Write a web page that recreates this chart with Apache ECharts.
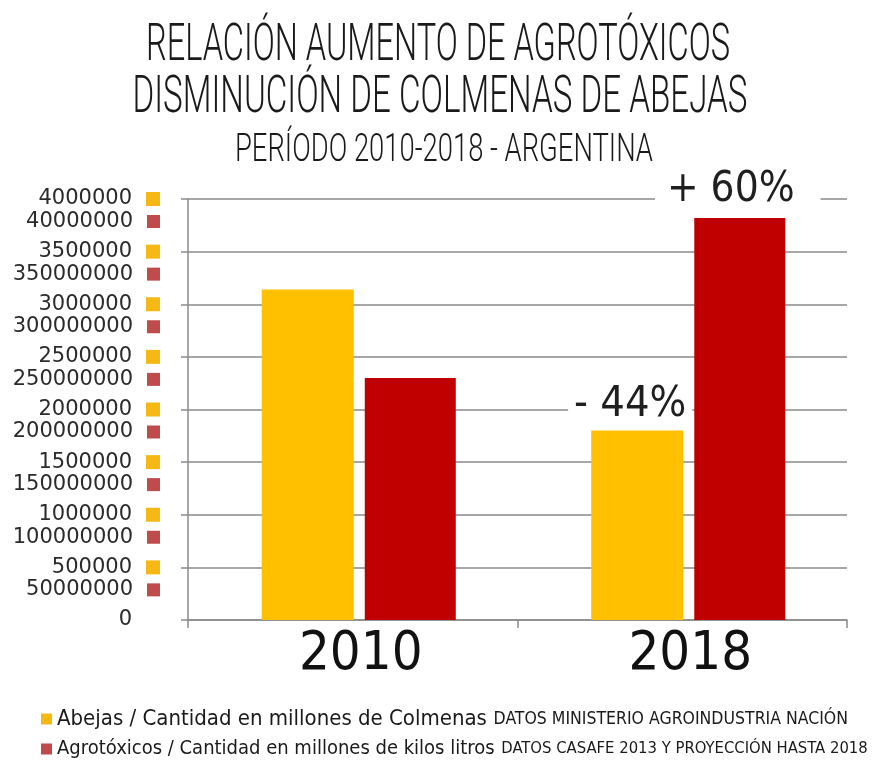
<!DOCTYPE html>
<html>
<head>
<meta charset="utf-8">
<script src="https://cdn.jsdelivr.net/npm/echarts@6/dist/echarts.min.js"></script>
<style>
html,body{margin:0;padding:0;background:#ffffff;}
#chart{width:881px;height:767px;}
</style>
</head>
<body>
<div id="chart"></div>
<script>
// ---------- DATA ----------
const titleLines = [
  'RELACIÓN AUMENTO DE AGROTÓXICOS',
  'DISMINUCIÓN DE COLMENAS DE ABEJAS',
  'PERÍODO 2010-2018 - ARGENTINA'
];
const categories = ['2010', '2018'];
const seriesNames = [
  'Abejas / Cantidad en millones de Colmenas',
  'Agrotóxicos / Cantidad en millones de kilos litros'
];
const seriesSources = [
  'DATOS MINISTERIO AGROINDUSTRIA NACIÓN',
  'DATOS CASAFE 2013 Y PROYECCIÓN HASTA 2018'
];
const beesValues = [3140000, 1800000];
const agroValues = [230000000, 382000000];
const beesChange = ['', '- 44%'];
const agroChange = ['', '+ 60%'];
const beesTickLabels = ['0', '500000', '1000000', '1500000', '2000000', '2500000', '3000000', '3500000', '4000000'];
const agroTickLabels = ['', '50000000', '100000000', '150000000', '200000000', '250000000', '300000000', '350000000', '40000000'];

// ---------- STYLE ----------
const NARROW = "'DejaVu Sans Condensed','Noto Sans',sans-serif";
const TITLE_FONT = "Roboto,'DejaVu Sans Condensed',sans-serif";
const BAR_YELLOW = '#FFC000';
const BAR_RED = '#C00000';
const SQ_YELLOW = '#F5B814';
const SQ_RED = '#BF4B4B';
const AXIS_GREY = '#8a8a8a';

function fitScale(text, size, weight, family, width) {
  const ctx = document.createElement('canvas').getContext('2d');
  ctx.font = weight + ' ' + size + 'px ' + family;
  return width / ctx.measureText(text).width;
}

const titleLayout = [
  {cx: 438, cy: 47, w: 584, size: 51},
  {cx: 440, cy: 99, w: 615, size: 51},
  {cx: 444, cy: 151, w: 418, size: 38}
];
const titleGraphics = titleLines.map((t, i) => {
  const L = titleLayout[i];
  const s = fitScale(t, L.size, 300, TITLE_FONT, L.w);
  return {
    type: 'text', x: L.cx, y: L.cy, scaleX: s,
    style: {
      text: t, fontSize: L.size, fontWeight: 300, fontFamily: TITLE_FONT, fill: '#1a1a1a',
      align: 'center', verticalAlign: 'middle', textAlign: 'center', textVerticalAlign: 'middle'
    }
  };
});

const chart = echarts.init(document.getElementById('chart'), null, {renderer: 'canvas'});

const labelRich = {
  t: {fontFamily: "'DejaVu Sans',Verdana,sans-serif", fontSize: 21, color: '#2b2b2b', lineHeight: 21},
  g: {width: 14},
  ys: {width: 14, height: 14, backgroundColor: SQ_YELLOW},
  rs: {width: 13, height: 13, backgroundColor: SQ_RED},
  ns: {width: 14, height: 14, backgroundColor: 'transparent'}
};

function changeLabel(text, size, dist, off, pad) {
  return {
    show: true, position: 'top', distance: dist, offset: off,
    formatter: text, fontFamily: NARROW, fontSize: size, color: '#1f1f1f',
    backgroundColor: '#ffffff', padding: pad
  };
}

const option = {
  backgroundColor: '#ffffff',
  animation: false,
  graphic: titleGraphics,
  grid: [
    {left: 188, right: 34, top: 199, bottom: 147, containLabel: false},
    {left: 194, right: 28, top: 199, bottom: 147, containLabel: false}
  ],
  legend: {
    orient: 'vertical', left: 36, top: 703, itemGap: 9,
    icon: 'rect', itemWidth: 11, itemHeight: 11,
    data: [
      {name: seriesNames[0], itemStyle: {color: SQ_YELLOW}},
      {name: seriesNames[1], itemStyle: {color: SQ_RED}}
    ],
    formatter: function (name) {
      const i = seriesNames.indexOf(name);
      return '{a' + i + '|' + name + '}  {b' + i + '|' + seriesSources[i] + '}';
    },
    textStyle: {
      rich: {
        a0: {fontFamily: NARROW, fontSize: 22, color: '#1a1a1a', lineHeight: 25},
        a1: {fontFamily: NARROW, fontSize: 20, color: '#1a1a1a', lineHeight: 25},
        b0: {fontFamily: NARROW, fontSize: 17.5, color: '#1a1a1a', lineHeight: 25},
        b1: {fontFamily: NARROW, fontSize: 16.5, color: '#1a1a1a', lineHeight: 25}
      }
    }
  },
  xAxis: [
    {
      type: 'category', data: categories, gridIndex: 0,
      axisLine: {show: true, lineStyle: {color: AXIS_GREY, width: 1.5}},
      axisTick: {show: true, length: 8, lineStyle: {color: AXIS_GREY, width: 1.5}},
      axisLabel: {
        margin: 8, fontFamily: NARROW, fontSize: 54, color: '#111', padding: [0, 0, 0, 16]
      }
    },
    {
      type: 'category', data: categories, gridIndex: 1, show: false
    }
  ],
  yAxis: [
    {
      type: 'value', gridIndex: 0, min: 0, max: 4000000, interval: 500000, position: 'left',
      axisLine: {show: true, lineStyle: {color: AXIS_GREY, width: 1.5}},
      axisTick: {show: true, length: 7, lineStyle: {color: AXIS_GREY, width: 1.5}},
      splitLine: {show: true, lineStyle: {color: AXIS_GREY, width: 1.5}},
      axisLabel: {
        margin: 28,
        formatter: function (v) {
          const i = Math.round(v / 500000);
          return '{t|' + beesTickLabels[i] + '}{g|}' + (i === 0 ? '{ns|}' : '{ys|}');
        },
        rich: labelRich
      }
    },
    {
      type: 'value', gridIndex: 0, min: 0, max: 400000000, interval: 50000000, position: 'left',
      axisLine: {show: false}, axisTick: {show: false}, splitLine: {show: false},
      axisLabel: {
        margin: 28, verticalAlign: 'top', padding: [12, 0, 0, 0],
        formatter: function (v) {
          const i = Math.round(v / 50000000);
          if (!agroTickLabels[i]) return '';
          return '{t|' + agroTickLabels[i] + '}{g|}{rs|}';
        },
        rich: labelRich
      }
    },
    {
      type: 'value', gridIndex: 1, min: 0, max: 4000000, interval: 500000, show: false,
      splitLine: {show: false}
    },
    {
      type: 'value', gridIndex: 1, min: 0, max: 400000000, interval: 50000000, show: false,
      splitLine: {show: false}
    }
  ],
  series: [
    {
      name: seriesNames[0], type: 'bar', xAxisIndex: 1, yAxisIndex: 2, barWidth: 92, barGap: '12%',
      itemStyle: {color: BAR_YELLOW},
      data: beesValues.map((v, i) => beesChange[i]
        ? {value: v, label: changeLabel(beesChange[i], 43, 4, [-7, 0], [0, 6])}
        : v)
    },
    {
      name: seriesNames[1], type: 'bar', xAxisIndex: 1, yAxisIndex: 3, barWidth: 91, barGap: '12%',
      itemStyle: {color: BAR_RED},
      data: agroValues.map((v, i) => agroChange[i]
        ? {value: v, label: changeLabel(agroChange[i], 42, 7, [-2, 0], [0, 26, 0, 12])}
        : v)
    }
  ]
};
chart.setOption(option);
</script>
</body>
</html>
